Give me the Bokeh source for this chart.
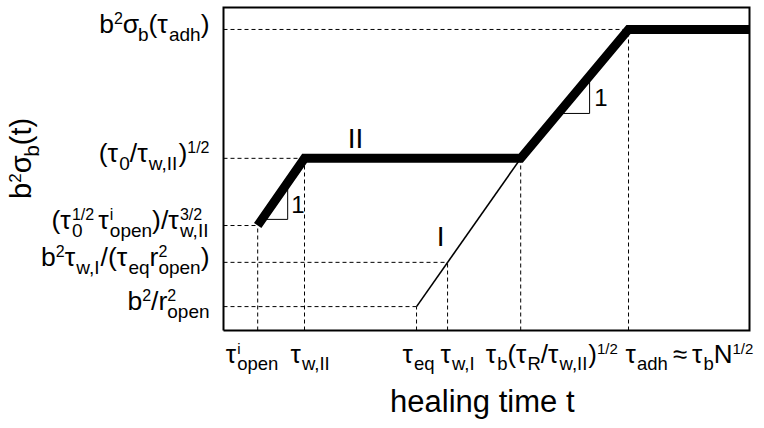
import math
from bokeh.plotting import figure
from bokeh.models import ColumnDataSource, Range1d
from bokeh.core.properties import value, field
from bokeh.embed import file_html
from bokeh.resources import INLINE

FONT = "Liberation Sans"
BASE_K = 0.33   # compensation: text is drawn ~0.33 em below the requested baseline

# ---- schematic data (log healing time vs log b^2 sigma_b, arbitrary units; box = 0..100) ----
tick_x = [6.5, 15.4, 36.7, 42.6, 56.5, 77.0]      # tau_open^i, tau_w,II, tau_eq, tau_w,I, tau_b(tau_R/tau_w,II)^1/2, tau_adh
tick_top = [32.5, 53.3, 7.4, 21.1, 53.3, 93.2]    # where each vertical guide meets the curves
level_y = [7.4, 21.1, 32.5, 53.3, 93.2]           # y levels of the labelled values
level_x = [36.7, 42.6, 6.5, 15.4, 77.0]           # where each horizontal guide meets the curves

regime2_x = [6.5, 15.4, 56.5, 77.0, 100.0]
regime2_y = [32.5, 53.3, 53.3, 93.2, 93.2]
regime1_x = [36.7, 56.5]
regime1_y = [7.4, 53.3]

tri1_x = [7.3, 12.2, 12.2]
tri1_y = [34.4, 34.4, 45.8]
tri2_x = [63.6, 69.6, 69.6]
tri2_y = [67.2, 67.2, 78.8]
slope_x = [12.9, 70.5]
slope_y = [36.5, 69.7]
slope_text = ["1", "1"]

regime_x = [25.1, 41.3]
regime_y = [56.7, 26.3]
regime_text = ["II", "I"]

box_x = [0, 100, 100, 0, 0]
box_y = [0, 0, 100, 100, 0]

# tick labels as (text, kind) segments: m = main, sub, sup, ss = (sub, sup) stacked, gap = px
ylab_segs = [
    [("b", "m"), ("2", "sup"), ("/", "m"), ("r", "m"), (("open", "2"), "ss")],
    [("b", "m"), ("2", "sup"), ("τ", "m"), ("w,I", "sub"), ("/", "m"), ("(", "m"), ("τ", "m"),
     ("eq", "sub"), ("r", "m"), (("open", "2"), "ss"), (")", "m")],
    [("(", "m"), ("τ", "m"), (("0", "1/2"), "ss"), (4, "gap"), ("τ", "m"), (("open", "i"), "ss"),
     (")", "m"), ("/", "m"), ("τ", "m"), (("w,II", "3/2"), "ss")],
    [("(", "m"), ("τ", "m"), ("0", "sub"), ("/", "m"), ("τ", "m"), ("w,II", "sub"), (")", "m"),
     ("1/2", "sup")],
    [("b", "m"), ("2", "sup"), ("σ", "m"), ("b", "sub"), ("(", "m"), ("τ", "m"), ("adh", "sub"),
     (")", "m")],
]
xlab_segs = [
    [("τ", "m"), (("open", "i"), "ss")],
    [("τ", "m"), ("w,II", "sub")],
    [("τ", "m"), ("eq", "sub")],
    [("τ", "m"), ("w,I", "sub")],
    [("τ", "m"), ("b", "sub"), ("(", "m"), ("τ", "m"), ("R", "sub"), ("/", "m"), ("τ", "m"),
     ("w,II", "sub"), (")", "m"), ("1/2", "sup")],
    [("τ", "m"), ("adh", "sub"), (5, "gap"), ("≈", "m"), (4, "gap"), ("τ", "m"), ("b", "sub"),
     ("N", "m"), ("1/2", "sup")],
]
xlab_dx = [-32, -14, -14, -7, -35, -3]
ytitle_segs = [("b", "m"), ("2", "sup"), ("σ", "m"), ("b", "sub"), ("(", "m"), ("t", "m"), (")", "m")]
xtitle = "healing time t"

# ---- approximate advance widths (em) for Liberation Sans ----
CW = {" ": .278, "(": .333, ")": .333, "/": .278, ",": .278, "0": .556, "1": .556, "2": .556,
      "3": .556, "a": .556, "b": .556, "d": .556, "e": .556, "g": .556, "h": .556, "i": .222,
      "l": .222, "m": .833, "n": .556, "o": .556, "p": .556, "q": .556, "r": .333, "t": .278,
      "w": .722, "I": .278, "N": .722, "R": .722, "τ": .44, "σ": .57, "≈": .584}


def tw(s, size):
    return sum(CW.get(c, .556) for c in s) * size


def layout(segs, M, S, P, dsub, dsup):
    items, a = [], 0.0
    for t, k in segs:
        if k == "m":
            items.append((t, a, 0, M)); a += tw(t, M)
        elif k == "sub":
            items.append((t, a, dsub, S)); a += tw(t, S)
        elif k == "sup":
            items.append((t, a, dsup, P)); a += tw(t, P)
        elif k == "ss":
            lo, hi = t
            items.append((lo, a, dsub, S)); items.append((hi, a, dsup, P))
            a += max(tw(lo, S), tw(hi, P))
        elif k == "gap":
            a += t
    return items, a


L = dict(x=[], y=[], xo=[], yo=[], text=[], size=[], angle=[])


def add(x, y, t, xo, yo, size, angle=0.0):
    # xo, yo in screen px (yo positive = down)
    L["x"].append(x); L["y"].append(y); L["xo"].append(xo); L["yo"].append(yo)
    L["text"].append(t); L["size"].append(f"{size:.1f}px"); L["angle"].append(angle)


def place(x, y, segs, dx, dy, align, M, S, P, dsub=8, dsup=-8):
    items, total = layout(segs, M, S, P, dsub, dsup)
    start = dx - total if align == "right" else (dx - total / 2 if align == "center" else dx)
    for t, a, v, sz in items:
        add(x, y, t, start + a, dy + v - BASE_K * sz, sz)


# y-level labels (right aligned, left of the box)
for yv, segs in zip(level_y, ylab_segs):
    place(0, yv, segs, -14, 3, "right", 26.5, 19, 16, dsub=8, dsup=-9)

# x tick labels
for xv, segs, dx in zip(tick_x, xlab_segs, xlab_dx):
    place(xv, 0, segs, dx, 32, "left", 26, 18.5, 15, dsub=7, dsup=-9)

# x title
place(49.2, 0, [(xtitle, "m")], 0, 81, "center", 31, 21, 18)

# rotated y title (reads bottom to top)
TS = 29
items, total = layout(ytitle_segs, TS, 21, 17, 8, -10)
for t, a, v, sz in items:
    add(0, 53.3, t, -193 + v - BASE_K * sz, total / 2 - a, sz, math.pi / 2)

# ---- figure: the canvas spans the box plus room for the labels ----
PX_X = 5.26   # px per x unit
PX_Y = 3.23   # px per y unit
p = figure(width=764, height=428,
           x_range=Range1d(-223 / PX_X, 100 + 15 / PX_X),
           y_range=Range1d(-98 / PX_Y, 100 + 7 / PX_Y),
           output_backend="svg", toolbar_location=None,
           x_axis_location=None, y_axis_location=None,
           min_border=0)
for g in p.grid:
    g.visible = False
p.outline_line_color = None
p.background_fill_color = "white"
p.border_fill_color = "white"

# frame box
p.line(box_x, box_y, line_color="black", line_width=2, line_join="miter")

# dashed guides
hx = [[0, lx] for lx in level_x]
hy = [[ly, ly] for ly in level_y]
vx = [[tx, tx] for tx in tick_x]
vy = [[0, ty] for ty in tick_top]
p.multi_line(hx + vx, hy + vy, line_color="black", line_width=1, line_dash="4 3")

# slope triangles
p.line(tri1_x, tri1_y, line_color="black", line_width=1)
p.line(tri2_x, tri2_y, line_color="black", line_width=1)

# regime I (thin) and regime II (thick)
p.line(regime1_x, regime1_y, line_color="black", line_width=1.6)
p.line(regime2_x, regime2_y, line_color="black", line_width=9, line_join="miter", line_cap="butt")

p.text(slope_x, slope_y, text=slope_text, text_font=value(FONT), text_font_size="24px",
       y_offset=-BASE_K * 24, text_align="left", text_baseline="alphabetic", text_color="black")
p.text(regime_x, regime_y, text=regime_text, text_font=value(FONT), text_font_size="28px",
       y_offset=-BASE_K * 28, text_align="center", text_baseline="alphabetic", text_color="black")

src = ColumnDataSource(L)
p.text(x="x", y="y", text="text", source=src, x_offset="xo", y_offset="yo", angle="angle",
       text_font=value(FONT), text_font_size=field("size"), text_align="left",
       text_baseline="alphabetic", text_color="black")

open("out.html", "w").write(file_html(p, INLINE))
